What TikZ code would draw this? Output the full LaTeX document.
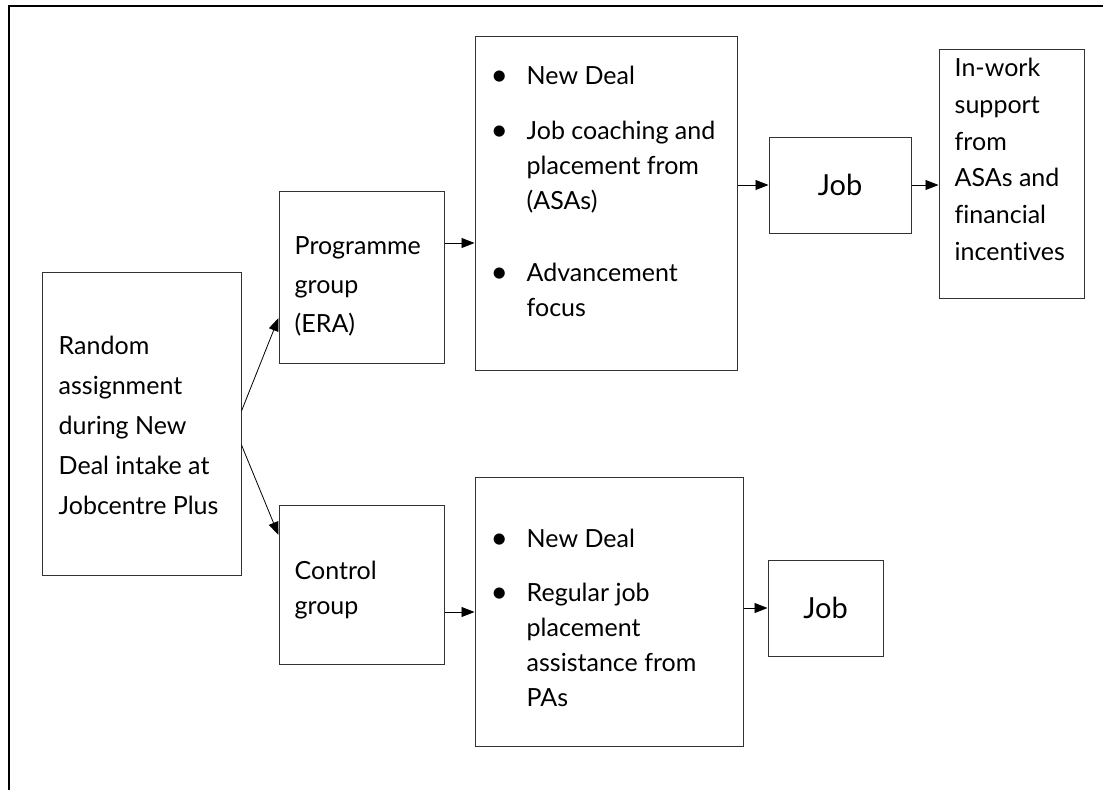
\documentclass[tikz,border=0pt]{standalone}
\usepackage{fontspec}
\usepackage{graphicx}
\setmainfont[Ligatures=NoCommon]{Lato}
\usetikzlibrary{arrows.meta,calc}
\newcommand\bul{\makebox[34pt][l]{\hspace*{-2pt}\raisebox{-0.5pt}{\scalebox{1.2}{\textbullet}}}}
\newcommand\ind{\hspace*{34pt}}
\newcommand\lines[2]{\parbox[t]{#1}{\raggedright #2}}
\begin{document}
\begin{tikzpicture}[x=1pt,y=-1pt,
  box/.style={draw=black!80, line width=1pt, rectangle, inner sep=0pt},
  txt/.style={inner sep=0pt, anchor=base west},
  arr/.style={-{Triangle[length=13pt,width=10pt]}, line width=0.8pt},
]
\useasboundingbox (0,0) rectangle (1103,790);
\draw[line width=2pt] (1103,6) -- (9,6) -- (9,790);

% boxes
\node[box, minimum width=199pt, minimum height=303pt] (random) at (141.5,423.5) {};
\node[box, minimum width=165pt, minimum height=172pt] (prog) at (361.5,277) {};
\node[box, minimum width=165pt, minimum height=159pt] (ctrl) at (361.5,584.5) {};
\node[box, minimum width=262pt, minimum height=334pt] (topbul) at (606,203) {};
\node[box, minimum width=268pt, minimum height=269pt] (botbul) at (609,611.5) {};
\node[box, minimum width=142pt, minimum height=96pt, font=\fontsize{29}{34}\selectfont] (jobt) at (840,185) {Job};
\node[box, minimum width=115pt, minimum height=96pt, font=\fontsize{29}{34}\selectfont] (jobb) at (825.5,608) {Job};
\node[box, minimum width=145pt, minimum height=249pt] (inwork) at (1011.5,173.5) {};

% texts
\node[txt, font=\fontsize{25}{40}\selectfont] (random-t) at ($(random.north west)+(17,83)$)
  {\lines{180pt}{Random\\assignment\\during New\\Deal intake at\\Jobcentre Plus}};
\node[txt, font=\fontsize{25}{39}\selectfont] (prog-t) at ($(prog.north west)+(16,64)$)
  {\lines{150pt}{Programme\\group\\(ERA)}};
\node[txt, font=\fontsize{25}{35}\selectfont] (ctrl-t) at ($(ctrl.north west)+(16,75)$)
  {\lines{150pt}{Control\\group}};
\node[txt, font=\fontsize{25}{35}\selectfont] (topbul-t) at ($(topbul.north west)+(18,49)$)
  {\lines{240pt}{\bul New Deal\\[20pt]
   \bul Job coaching and\\\ind placement from\\\ind (ASAs)\\[37pt]
   \bul Advancement\\\ind focus}};
\node[txt, font=\fontsize{25}{35}\selectfont] (botbul-t) at ($(botbul.north west)+(18,71)$)
  {\lines{245pt}{\bul New Deal\\[19pt]
   \bul Regular job\\\ind placement\\\ind assistance from\\\ind PAs}};
\node[txt, font=\fontsize{25}{36.8}\selectfont] (inwork-t) at ($(inwork.north west)+(16,28)$)
  {\lines{130pt}{In-work\\support\\from\\ASAs and\\financial\\incentives}};

% connectors
\draw[arr] ($(random.east)+(0,-12.5)$) -- ($(prog.west)+(0,41)$);
\draw[arr] ($(random.east)+(0,21.5)$) -- ($(ctrl.west)+(0,-49.5)$);
\draw[arr] (prog.east) ++(0,-34) coordinate (a1) -- (a1 -| topbul.west);
\draw[arr] (ctrl.east) ++(0,27.5) coordinate (a2) -- (a2 -| botbul.west);
\draw[arr] (topbul.east |- jobt.west) -- (jobt.west);
\draw[arr] (jobt.east) -- (jobt.east -| inwork.west);
\draw[arr] (botbul.east |- jobb.west) -- (jobb.west);
\end{tikzpicture}
\end{document}
